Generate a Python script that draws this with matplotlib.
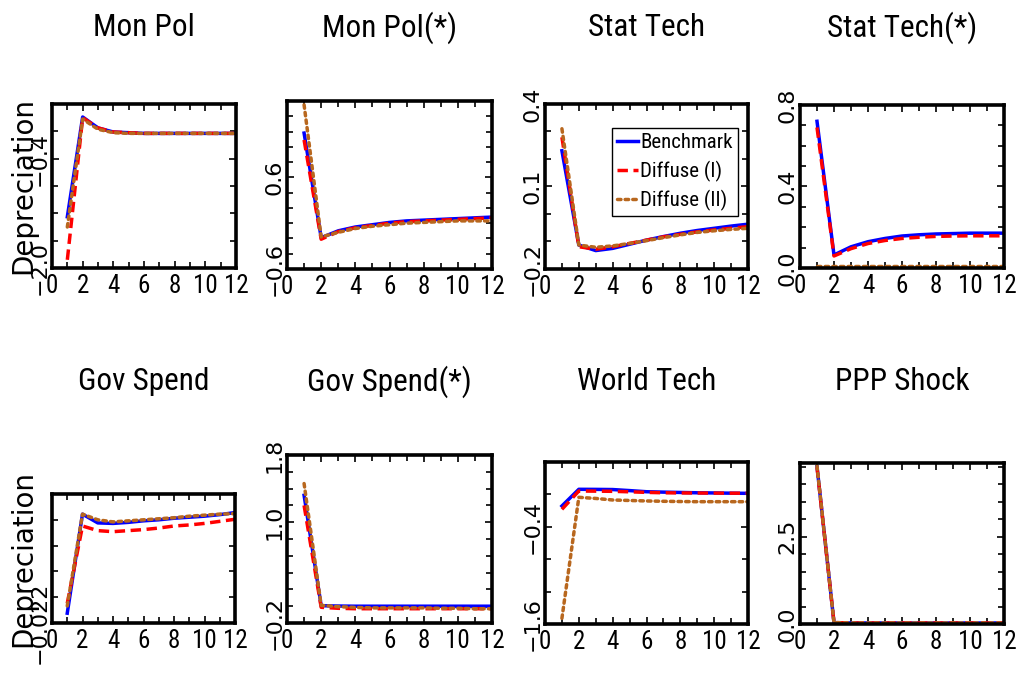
#!/usr/bin/env python3
# -*- coding: utf-8 -*-
"""
Impulse responses of the depreciation rate, three model variants,
eight shocks laid out in a 2 x 4 grid.
"""
import numpy as np
import matplotlib
matplotlib.use("Agg")
import matplotlib.pyplot as plt
from matplotlib import font_manager
from matplotlib.ticker import FixedLocator, MultipleLocator

# horizon
periods = [1, 2, 3, 4, 5, 6, 7, 8, 9, 10, 11, 12]

titles = ["Mon Pol", "Mon Pol(*)", "Stat Tech", "Stat Tech(*)",
          "Gov Spend", "Gov Spend(*)", "World Tech", "PPP Shock"]
series_names = ["Benchmark", "Diffuse (I)", "Diffuse (II)"]

# responses (benchmark, diffuse I, diffuse II)
mon_pol_bench = [-1.25, 0.21, 0.05, -0.01, -0.02, -0.03, -0.03, -0.03, -0.03, -0.03, -0.03, -0.03]
mon_pol_diff1 = [-1.88, 0.20, 0.05, -0.01, -0.02, -0.03, -0.03, -0.03, -0.03, -0.03, -0.03, -0.03]
mon_pol_diff2 = [-1.40, 0.18, 0.03, -0.02, -0.03, -0.03, -0.03, -0.03, -0.03, -0.03, -0.03, -0.03]

mon_pol_f_bench = [1.18, -0.19, -0.10, -0.05, -0.02, 0.01, 0.03, 0.04, 0.05, 0.06, 0.07, 0.08]
mon_pol_f_diff1 = [1.09, -0.21, -0.11, -0.06, -0.03, 0.00, 0.02, 0.03, 0.04, 0.05, 0.06, 0.07]
mon_pol_f_diff2 = [1.55, -0.18, -0.12, -0.07, -0.04, -0.02, 0.00, 0.01, 0.02, 0.03, 0.03, 0.03]

stat_tech_bench = [0.230, -0.113, -0.133, -0.125, -0.110, -0.095, -0.082, -0.070, -0.060, -0.052, -0.044, -0.037]
stat_tech_diff1 = [0.279, -0.119, -0.128, -0.119, -0.107, -0.095, -0.083, -0.074, -0.065, -0.058, -0.052, -0.046]
stat_tech_diff2 = [0.310, -0.113, -0.121, -0.116, -0.107, -0.097, -0.086, -0.076, -0.067, -0.061, -0.056, -0.052]

stat_tech_f_bench = [0.72, 0.064, 0.104, 0.129, 0.145, 0.157, 0.163, 0.167, 0.169, 0.171, 0.171, 0.171]
stat_tech_f_diff1 = [0.69, 0.059, 0.095, 0.120, 0.135, 0.145, 0.151, 0.155, 0.157, 0.158, 0.158, 0.158]
stat_tech_f_diff2 = [0.008, 0.008, 0.008, 0.008, 0.008, 0.008, 0.008, 0.008, 0.008, 0.008, 0.008, 0.008]

gov_bench = [-0.0201, -0.0009, -0.0026, -0.0027, -0.0025, -0.0022, -0.0020, -0.0017, -0.0015, -0.0013, -0.0010, -0.0006]
gov_diff1 = [-0.0182, -0.0032, -0.0041, -0.0043, -0.0041, -0.0039, -0.0036, -0.0032, -0.0030, -0.0027, -0.0023, -0.0019]
gov_diff2 = [-0.0187, -0.0009, -0.0020, -0.0024, -0.0022, -0.0020, -0.0018, -0.0016, -0.0013, -0.0011, -0.0009, -0.0008]

gov_f_bench = [1.32, 0.006, 0.002, 0.00, 0.00, 0.00, 0.00, 0.00, 0.00, 0.00, 0.00, 0.00]
gov_f_diff1 = [1.20, -0.013, -0.025, -0.03, -0.03, -0.03, -0.03, -0.03, -0.03, -0.03, -0.03, -0.03]
gov_f_diff2 = [1.46, 0.010, -0.005, -0.015, -0.02, -0.02, -0.02, -0.02, -0.025, -0.025, -0.03, -0.03]

world_bench = [-0.143, 0.063, 0.062, 0.060, 0.047, 0.033, 0.028, 0.024, 0.020, 0.018, 0.015, 0.013]
world_diff1 = [-0.184, 0.042, 0.040, 0.038, 0.032, 0.025, 0.020, 0.018, 0.017, 0.016, 0.015, 0.015]
world_diff2 = [-1.53, -0.036, -0.050, -0.069, -0.075, -0.081, -0.085, -0.088, -0.090, -0.090, -0.090, -0.090]

ppp_bench = [4.50, 0.04, 0.03, 0.03, 0.03, 0.03, 0.03, 0.03, 0.03, 0.03, 0.03, 0.03]
ppp_diff1 = [4.48, 0.04, 0.03, 0.03, 0.03, 0.03, 0.03, 0.03, 0.03, 0.03, 0.03, 0.03]
ppp_diff2 = [4.52, 0.04, 0.03, 0.03, 0.03, 0.03, 0.03, 0.03, 0.03, 0.03, 0.03, 0.03]

responses = [
    (mon_pol_bench, mon_pol_diff1, mon_pol_diff2),
    (mon_pol_f_bench, mon_pol_f_diff1, mon_pol_f_diff2),
    (stat_tech_bench, stat_tech_diff1, stat_tech_diff2),
    (stat_tech_f_bench, stat_tech_f_diff1, stat_tech_f_diff2),
    (gov_bench, gov_diff1, gov_diff2),
    (gov_f_bench, gov_f_diff1, gov_f_diff2),
    (world_bench, world_diff1, world_diff2),
    (ppp_bench, ppp_diff1, ppp_diff2),
]

# y axis per panel: limits, labelled ticks, minor step, decimals
y_limits = [(-2.0, 0.4), (-0.6, 1.6), (-0.2, 0.4), (0.0, 0.8),
            (-0.022, 0.003), (-0.2, 1.8), (-1.6, 0.4), (0.0, 4.6)]
y_labelled = [[-2.0, -0.4], [-0.6, 0.6], [-0.2, 0.1, 0.4], [0.0, 0.4, 0.8],
              [-0.022], [-0.2, 1.0, 1.8], [-1.6, -0.4], [0.0, 2.5]]
y_steps = [0.4, 0.2, 0.1, 0.1, 0.005, 0.2, 0.4, 0.5]
y_decimals = [1, 1, 1, 1, 3, 1, 1, 1]

# axes boxes in pixels: left, right, top, bottom
W, H = 1019, 679
boxes = [(52, 236, 104, 268), (287, 492, 101, 269), (545, 748, 104, 269), (800, 1004, 105, 268),
         (52, 235, 494, 623), (287, 492, 455, 623), (545, 748, 462, 624), (800, 1004, 463, 624)]

colors = ["#0000ff", "#ff0000", "#b8671e"]
styles = ["-", (0, (3, 1.6)), (0, (1, 1.2))]

# pick a condensed face for the upright texts if one is there
fonts = font_manager.fontManager.ttflist
narrow, stretch, shrink = "Liberation Sans", "normal", 0.86
for want in ["Liberation Sans Narrow", "Roboto Condensed", "Open Sans Condensed"]:
    if any(f.name == want for f in fonts):
        narrow, stretch, shrink = want, "normal", 1.0
        break
else:
    if any(f.name == "DejaVu Sans" and f.stretch == "condensed" for f in fonts):
        narrow, stretch, shrink = "DejaVu Sans", "condensed", 0.92

fig = plt.figure(figsize=(W / 100, H / 100), dpi=100)

for i in range(8):
    l, r, t, b = boxes[i]
    ax = fig.add_axes([l / W, 1 - b / H, (r - l) / W, (b - t) / H])
    for k in range(3):
        ax.plot(periods, responses[i][k], color=colors[k], linestyle=styles[k],
                linewidth=2.5, label=series_names[k],
                dash_capstyle="round" if k == 2 else "butt")
    ax.set_xlim(0, 12)
    ax.set_ylim(*y_limits[i])

    ax.xaxis.set_major_locator(FixedLocator([0, 2, 4, 6, 8, 10, 12]))
    ax.xaxis.set_minor_locator(MultipleLocator(1))
    lo = y_limits[i][0]
    ax.yaxis.set_minor_locator(FixedLocator(np.arange(lo, y_limits[i][1] + 1e-9, y_steps[i])))
    ticks = y_labelled[i]
    ax.set_yticks(ticks, [f"{v:.{y_decimals[i]}f}".replace("-", "\u2212") for v in ticks])

    ax.tick_params(which="both", direction="in", top=True, right=True, width=1.2)
    ax.tick_params(which="major", length=5)
    ax.tick_params(which="minor", length=4)
    ax.tick_params(axis="x", labelsize=18 * shrink, pad=4)
    ax.tick_params(axis="y", labelsize=16, labelrotation=90, pad=2)
    for lab in ax.get_xticklabels():
        lab.set_family(narrow)
        lab.set_stretch(stretch)
    for lab in ax.get_yticklabels():
        lab.set_family("DejaVu Sans")
        lab.set_va("center")
    for sp in ax.spines.values():
        sp.set_linewidth(2.6)

    fig.text((l + r) / 2 / W, 1 - (28 if i < 4 else 382) / H, titles[i],
             ha="center", va="center", fontsize=22.5 * shrink, family=narrow,
             stretch=stretch)

    if i % 4 == 0:
        ax.set_ylabel("Depreciation", fontsize=20, family="DejaVu Sans", va="center")
        ax.yaxis.set_label_coords(-0.155, 0.5)

    if i == 2:
        leg = ax.legend(loc="upper right", bbox_to_anchor=(0.951, 0.855),
                        prop={"family": narrow, "size": 15 * shrink, "stretch": stretch},
                        handlelength=1.0, handletextpad=0.1, labelspacing=0.4,
                        borderpad=0.25, borderaxespad=0, fancybox=False, framealpha=1)
        leg.get_frame().set_edgecolor("black")
        leg.get_frame().set_linewidth(1.0)

fig.savefig("out.png", dpi=100)
